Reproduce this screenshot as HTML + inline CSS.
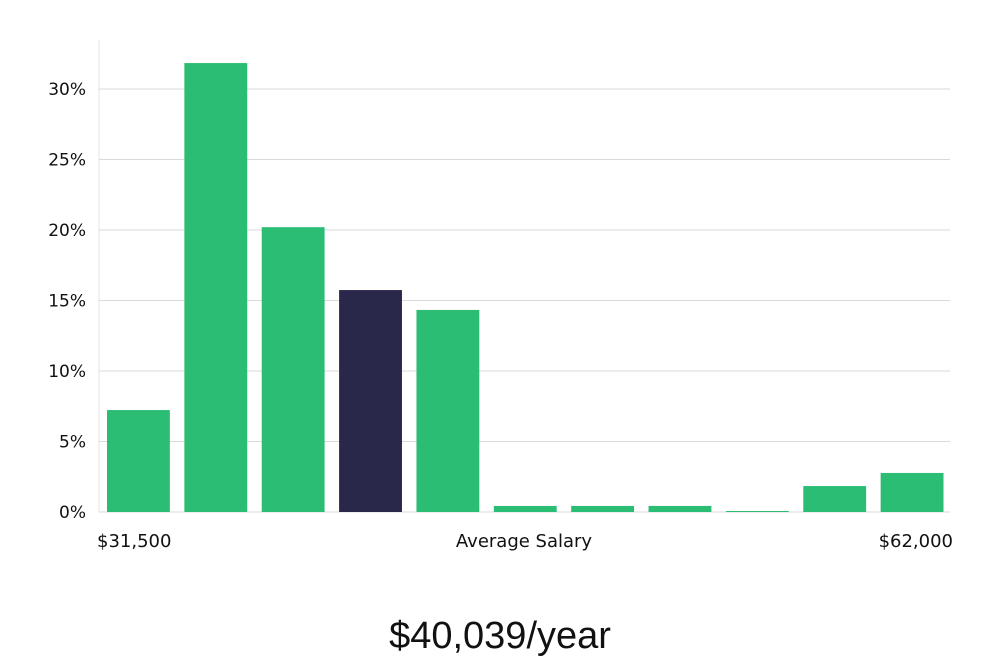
<!DOCTYPE html>
<html><head><meta charset="utf-8"><style>
html,body{margin:0;padding:0;background:#fff;}
body{width:1000px;height:660px;overflow:hidden;font-family:"DejaVu Sans","Liberation Sans",sans-serif;}
</style></head><body>
<svg id="chart" width="1000" height="660" xmlns="http://www.w3.org/2000/svg"></svg>
<script>
const categories = ["b1","b2","b3","b4","b5","b6","b7","b8","b9","b10","b11"];
const values = [7.23,31.84,20.2,15.74,14.33,0.43,0.43,0.43,0.07,1.84,2.77];
const highlight = [false,false,false,true,false,false,false,false,false,false,false];
const yTicks = [0,5,10,15,20,25,30];
const yTickLabels = ["0%","5%","10%","15%","20%","25%","30%"];
const xLabels = ["$31,500","Average Salary","$62,000"];
const headline = "$40,039/year";

const NS="http://www.w3.org/2000/svg";
const svg=document.getElementById('chart');
const x0=99,x1=950,y0=512,pxPerUnit=(512-89)/30;
const y=v=>y0-v*pxPerUnit;
const pitch=(950-99)/categories.length;
const bx=i=>x0+i*pitch+8, bw=pitch-14.5;
function mk(t,a){const e=document.createElementNS(NS,t);for(const k in a)e.setAttribute(k,a[k]);svg.appendChild(e);return e;}
let ax=mk('line',{x1:x0,x2:x0,y1:40,y2:y0,stroke:'#e4e4e4','stroke-width':1});


yTicks.forEach((t,i)=>{
  const g=mk('line',{x1:x0,x2:x1,y1:y(t),y2:y(t),stroke:'#d9d9d9','stroke-width':1});
  
  
  const tx=mk('text',{x:86,y:y(t)+6,'text-anchor':'end','font-size':17,fill:'#111'});
  tx.textContent=yTickLabels[i];
  
  
});
values.forEach((v,i)=>{
  const r=mk('rect',{x:bx(i),y:y(v),width:bw,height:Math.max(1,v*pxPerUnit),fill:highlight[i]?'#29274a':'#2bbd74'});
  
  
});
const xl=[[97,'start'],[524,'middle'],[953,'end']];
xLabels.forEach((l,i)=>{
  const t=mk('text',{x:xl[i][0],y:547,'text-anchor':xl[i][1],'font-size':18,fill:'#111'});
  t.textContent=l;
  
  
});
const h=mk('text',{x:500,y:648,'text-anchor':'middle','font-size':38,fill:'#111','font-family':'Liberation Sans, sans-serif'});
h.textContent=headline;


</script>
</body></html>
